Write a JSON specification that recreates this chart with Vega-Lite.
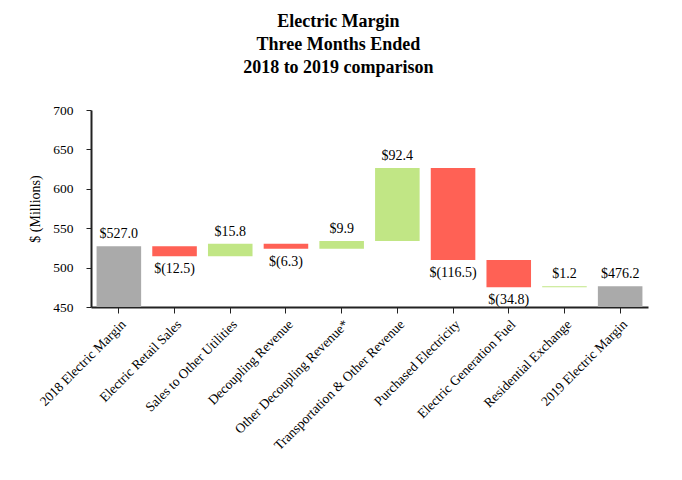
{
  "$schema": "https://vega.github.io/schema/vega-lite/v6.json",
  "width": 557,
  "height": 197,
  "padding": {"left": 28, "top": 13, "right": 20, "bottom": 5},
  "background": "white",
  "title": {
    "text": ["Electric Margin", "Three Months Ended", "2018 to 2019 comparison"],
    "font": "Liberation Serif",
    "fontSize": 18,
    "fontWeight": "bold",
    "color": "black",
    "lineHeight": 23,
    "anchor": "middle",
    "frame": "bounds",
    "offset": 26
  },
  "config": {
    "view": {"stroke": null},
    "font": "Liberation Serif",
    "axis": {"labelFont": "Liberation Serif", "titleFont": "Liberation Serif", "labelColor": "black", "titleColor": "black", "domainColor": "#222222", "tickColor": "#222222", "grid": false},
    "axisY": {"labelOverlap": false, "labelFontSize": 13.5, "labelPadding": 13, "tickSize": 5, "domainWidth": 2, "titleFontSize": 14, "titleFontWeight": "normal", "titlePadding": 10}
  },
  "data": {
    "values": [
      {"category": "2018 Electric Margin", "start": 0, "end": 527.0, "type": "total", "label": "$527.0"},
      {"category": "Electric Retail Sales", "start": 527.0, "end": 514.5, "type": "dec", "label": "$(12.5)"},
      {"category": "Sales to Other Utilities", "start": 514.5, "end": 530.3, "type": "inc", "label": "$15.8"},
      {"category": "Decoupling Revenue", "start": 530.3, "end": 524.0, "type": "dec", "label": "$(6.3)"},
      {"category": "Other Decoupling Revenue*", "start": 524.0, "end": 533.9, "type": "inc", "label": "$9.9"},
      {"category": "Transportation & Other Revenue", "start": 533.9, "end": 626.3, "type": "inc", "label": "$92.4"},
      {"category": "Purchased Electricity", "start": 626.3, "end": 509.8, "type": "dec", "label": "$(116.5)"},
      {"category": "Electric Generation Fuel", "start": 509.8, "end": 475.0, "type": "dec", "label": "$(34.8)"},
      {"category": "Residential Exchange", "start": 475.0, "end": 476.2, "type": "inc", "label": "$1.2"},
      {"category": "2019 Electric Margin", "start": 0, "end": 476.2, "type": "total", "label": "$476.2"}
    ]
  },
  "encoding": {
    "x": {
      "field": "category",
      "type": "nominal",
      "sort": null,
      "scale": {"paddingInner": 0.2, "paddingOuter": 0.1},
      "axis": {"title": null, "labelAngle": -45, "labelFontSize": 13.5, "labelPadding": 4, "tickSize": 6, "domainWidth": 2, "labelLimit": 300}
    }
  },
  "layer": [
    {
      "mark": {"type": "bar", "clip": true},
      "encoding": {
        "y": {
          "field": "start",
          "type": "quantitative",
          "scale": {"domain": [450, 700], "nice": false, "zero": false},
          "axis": {"title": "$ (Millions)", "values": [450, 500, 550, 600, 650, 700], "labelOverlap": false}
        },
        "y2": {"field": "end"},
        "color": {
          "field": "type",
          "type": "nominal",
          "scale": {"domain": ["total", "inc", "dec"], "range": ["#aaaaaa", "#c1e685", "#ff6155"]},
          "legend": null
        }
      }
    },
    {
      "transform": [{"filter": "datum.type != 'dec'"}],
      "mark": {"type": "text", "baseline": "bottom", "dy": -5, "fontSize": 14, "font": "Liberation Serif", "color": "black"},
      "encoding": {
        "y": {"field": "end", "type": "quantitative", "axis": {"title": "$ (Millions)", "values": [450, 500, 550, 600, 650, 700], "labelOverlap": false}},
        "text": {"field": "label"}
      }
    },
    {
      "transform": [{"filter": "datum.type == 'dec'"}],
      "mark": {"type": "text", "baseline": "top", "dy": 6, "fontSize": 14, "font": "Liberation Serif", "color": "black"},
      "encoding": {
        "y": {"field": "end", "type": "quantitative", "axis": {"title": "$ (Millions)", "values": [450, 500, 550, 600, 650, 700], "labelOverlap": false}},
        "text": {"field": "label"}
      }
    }
  ]
}
